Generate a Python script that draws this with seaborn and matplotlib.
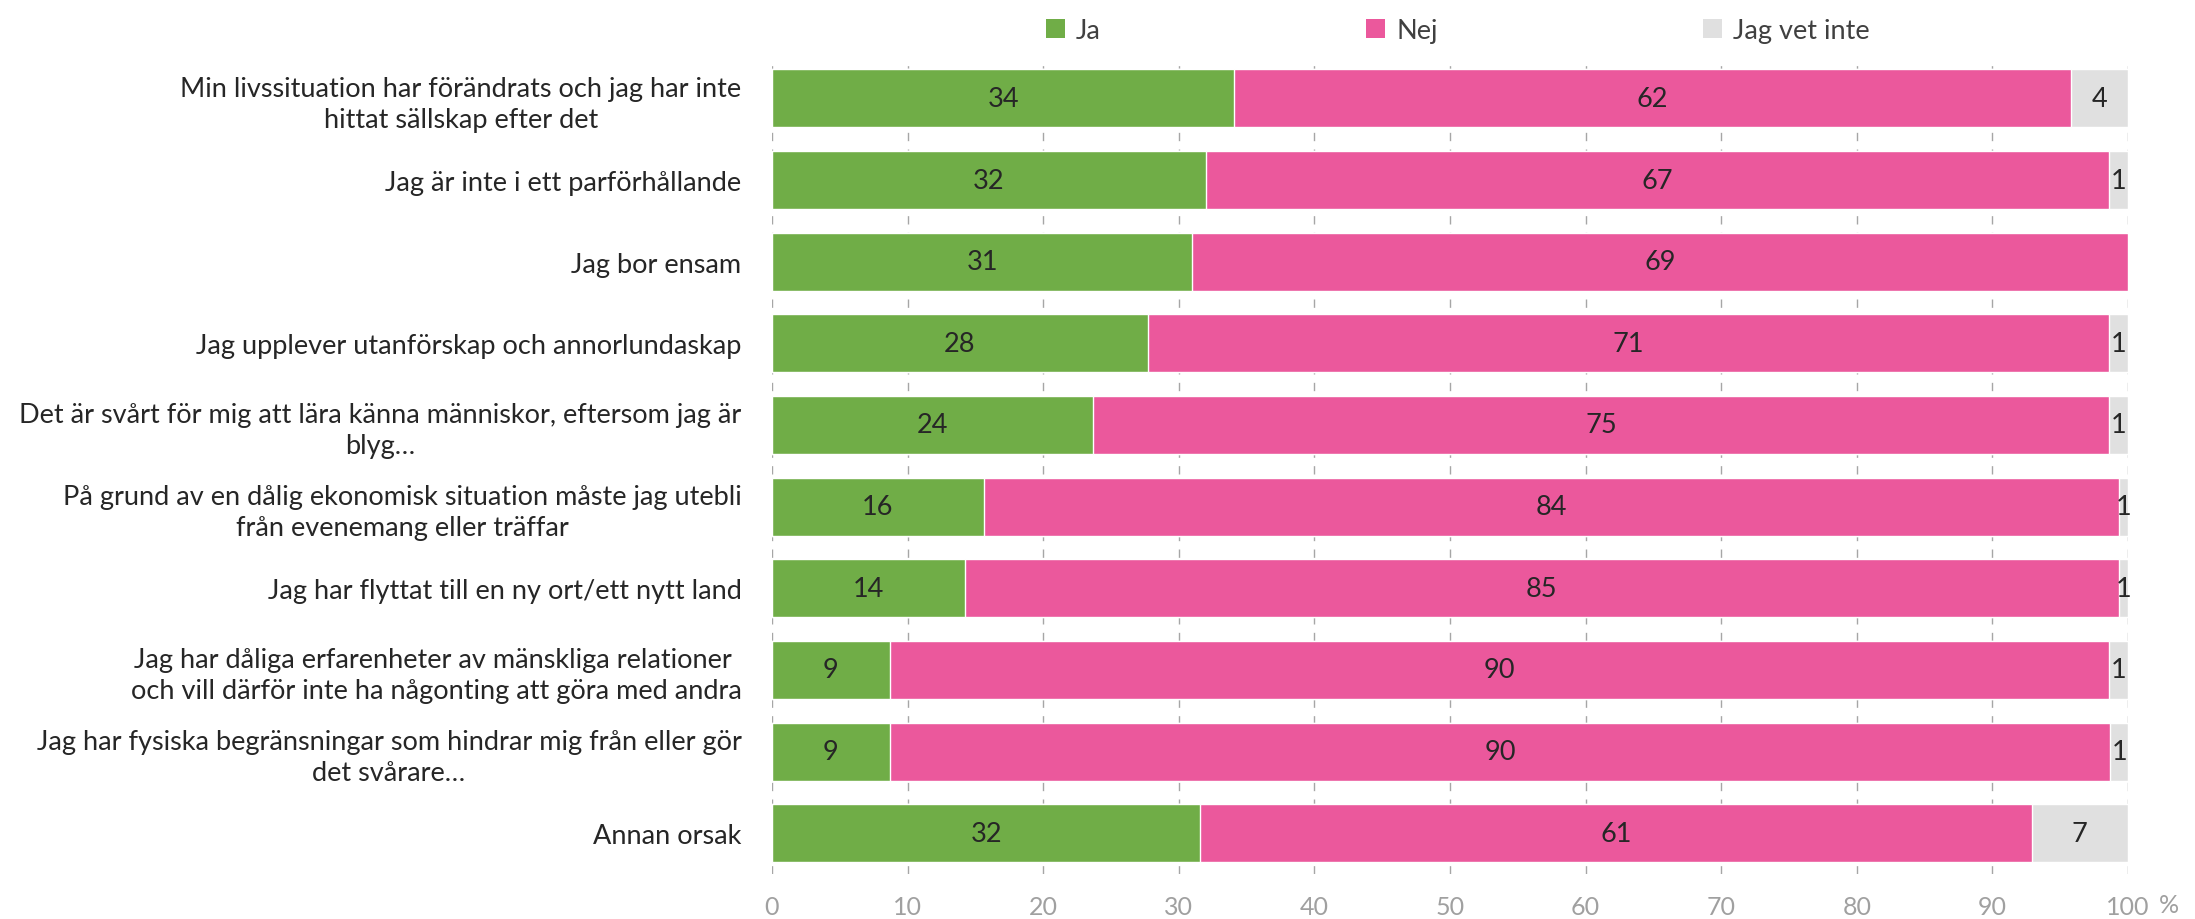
import matplotlib
matplotlib.use("Agg")
import matplotlib.pyplot as plt
from matplotlib.patches import Patch
import numpy as np
import pandas as pd
import seaborn as sns

categories = [
    "Min livssituation har förändrats och jag har inte\nhittat sällskap efter det",
    "Jag är inte i ett parförhållande",
    "Jag bor ensam",
    "Jag upplever utanförskap och annorlundaskap",
    "Det är svårt för mig att lära känna människor, eftersom jag är\nblyg…",
    "På grund av en dålig ekonomisk situation måste jag utebli\nfrån evenemang eller träffar",
    "Jag har flyttat till en ny ort/ett nytt land",
    "Jag har dåliga erfarenheter av mänskliga relationer \noch vill därför inte ha någonting att göra med andra",
    "Jag har fysiska begränsningar som hindrar mig från eller gör\ndet svårare…",
    "Annan orsak",
]
ja = [34.1, 32.0, 31.0, 27.7, 23.7, 15.6, 14.2, 8.7, 8.7, 31.6]
nej = [61.7, 66.6, 69.0, 70.9, 74.9, 83.7, 85.1, 89.9, 90.0, 61.3]
vet_inte = [4.2, 1.4, 0.0, 1.4, 1.4, 0.7, 0.7, 1.4, 1.3, 7.1]

series_names = ["Ja", "Nej", "Jag vet inte"]
colors = ["#70AD47", "#EB589C", "#E0E0E0"]
x_ticks = [0, 10, 20, 30, 40, 50, 60, 70, 80, 90, 100]

sns.set_theme(style="white")
plt.rcParams["font.family"] = ["Lato", "DejaVu Sans"]

df = pd.DataFrame({"kategori": categories, "Ja": ja, "Nej": nej, "Jag vet inte": vet_inte})
df["c_ja"] = df["Ja"]
df["c_nej"] = df["Ja"] + df["Nej"]
df["c_all"] = df["Ja"] + df["Nej"] + df["Jag vet inte"]

fig = plt.figure(figsize=(21.95, 9.2), dpi=100)
ax = fig.add_axes([0.3517, 0.0489, 0.6178, 0.8874])

# stacked bars: overlay cumulative totals, widest first
for col, color in zip(["c_all", "c_nej", "c_ja"], colors[::-1]):
    sns.barplot(data=df, x=col, y="kategori", orient="h", color=color,
                width=0.71, saturation=1, ax=ax, zorder=2)

ax.set_xlim(0, 100)
ax.set_ylim(len(categories) - 0.5, -0.5)
ax.set_xticks(x_ticks)
ax.set_xticklabels([str(t) for t in x_ticks], color="#A0A0A0", fontsize=18)
ax.set_xlabel("")
ax.set_ylabel("")
ax.tick_params(axis="y", length=0, pad=22)
ax.tick_params(axis="x", length=0, pad=15)
for lab in ax.get_yticklabels():
    lab.set_fontsize(19.5)
    lab.set_color("#262626")
    lab.set_multialignment("center")
    lab.set_linespacing(1.3)

ax.xaxis.grid(True, color="#A6A6A6", linestyle=(0, (6, 6)), linewidth=1.0, zorder=0)
ax.yaxis.grid(False)
ax.set_axisbelow(True)
for s in ax.spines.values():
    s.set_visible(False)

# segment values
for i in range(len(categories)):
    left = 0.0
    for name in series_names:
        v = df.loc[i, name]
        if v > 0:
            ax.text(left + v / 2, i, f"{v:.0f}", ha="center", va="center",
                    fontsize=19.5, color="#262626", zorder=5)
        left += v

ax.annotate("%", xy=(1.0, 0), xycoords="axes fraction", xytext=(22, -14),
            textcoords="offset points", ha="left", va="top",
            fontsize=18, color="#A0A0A0")

handles = [Patch(facecolor=c, edgecolor="none") for c in colors]
fig.legend(handles, series_names, loc="upper left", bbox_to_anchor=(0.4655, 1.006),
           ncol=3, frameon=False, fontsize=19.5, handlelength=0.7, handleheight=0.7,
           handletextpad=0.4, columnspacing=9.8, labelcolor="#404040")

fig.savefig("out.png", dpi=100)
